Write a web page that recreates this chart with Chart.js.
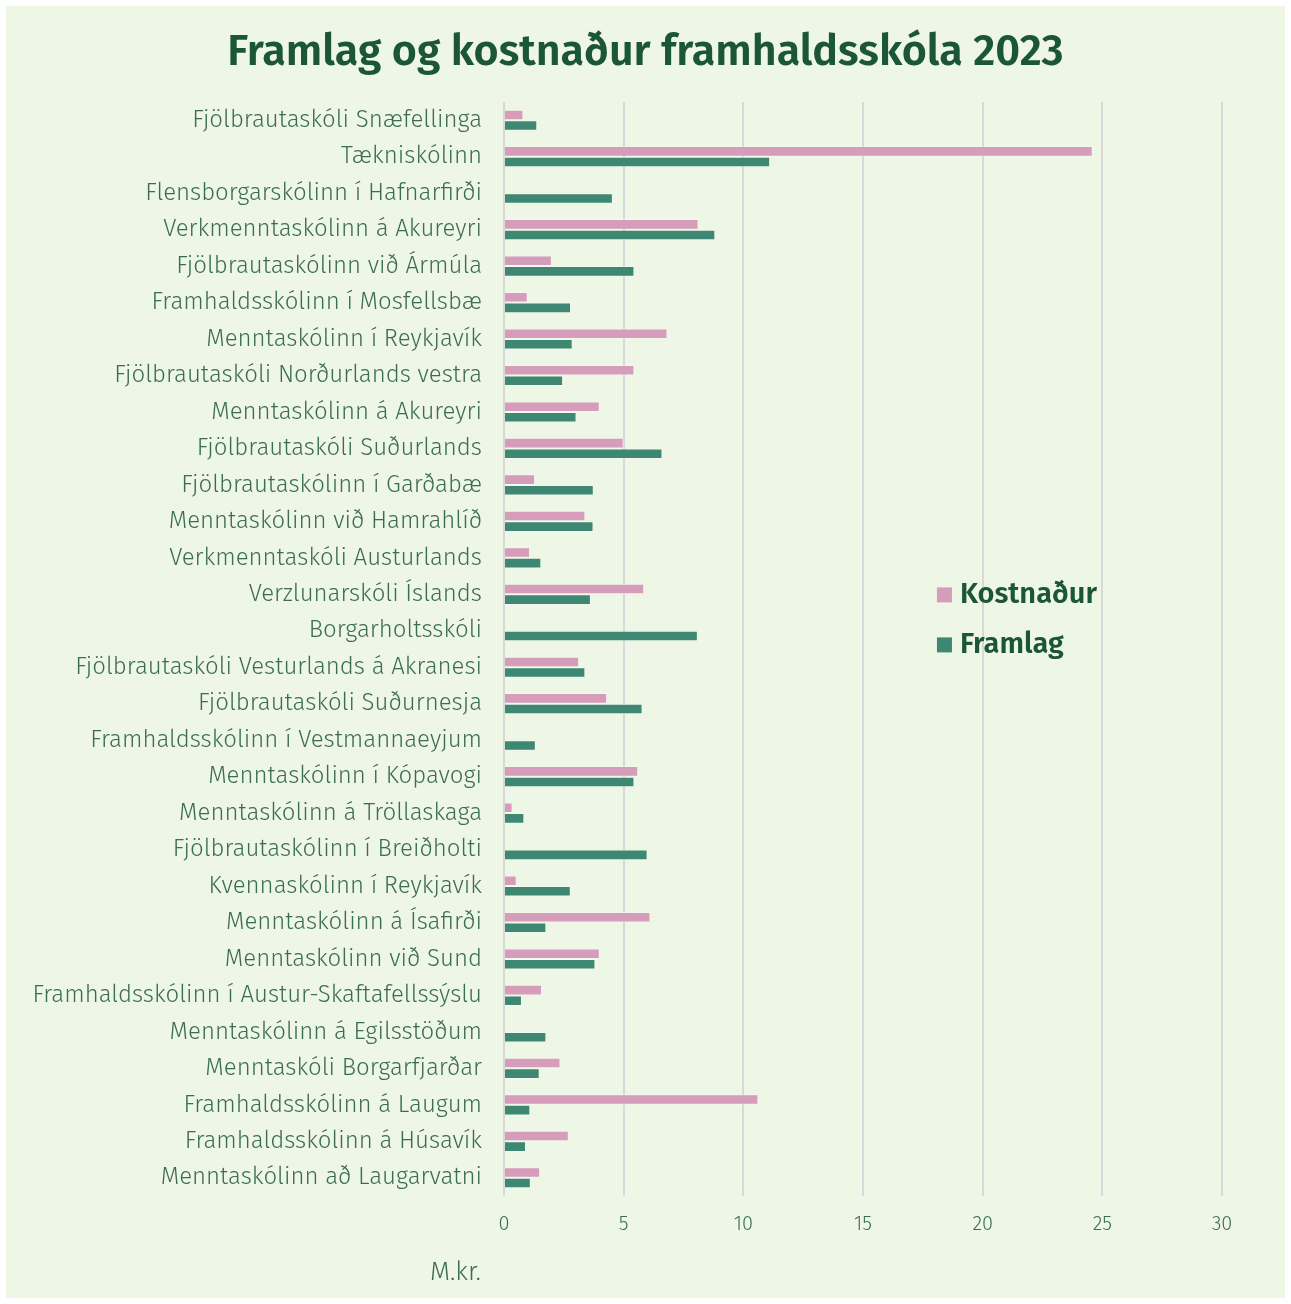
<!DOCTYPE html>
<html>
<head>
<meta charset="utf-8">
<script src="https://cdn.jsdelivr.net/npm/chart.js@4/dist/chart.umd.min.js"></script>
<style>
	html, body { margin: 0; padding: 0; background: #ffffff; }
	#wrap { width: 1291px; height: 1304px; }
</style>
</head>
<body>
<div id="wrap"><canvas id="chart" width="1291" height="1304"></canvas></div>
<script>
// Skólar, í sömu röð og á myndinni (ofan frá)
const schools = [
	'Fjölbrautaskóli Snæfellinga',
	'Tækniskólinn',
	'Flensborgarskólinn í Hafnarfirði',
	'Verkmenntaskólinn á Akureyri',
	'Fjölbrautaskólinn við Ármúla',
	'Framhaldsskólinn í Mosfellsbæ',
	'Menntaskólinn í Reykjavík',
	'Fjölbrautaskóli Norðurlands vestra',
	'Menntaskólinn á Akureyri',
	'Fjölbrautaskóli Suðurlands',
	'Fjölbrautaskólinn í Garðabæ',
	'Menntaskólinn við Hamrahlíð',
	'Verkmenntaskóli Austurlands',
	'Verzlunarskóli Íslands',
	'Borgarholtsskóli',
	'Fjölbrautaskóli Vesturlands á Akranesi',
	'Fjölbrautaskóli Suðurnesja',
	'Framhaldsskólinn í Vestmannaeyjum',
	'Menntaskólinn í Kópavogi',
	'Menntaskólinn á Tröllaskaga',
	'Fjölbrautaskólinn í Breiðholti',
	'Kvennaskólinn í Reykjavík',
	'Menntaskólinn á Ísafirði',
	'Menntaskólinn við Sund',
	'Framhaldsskólinn í Austur-Skaftafellssýslu',
	'Menntaskólinn á Egilsstöðum',
	'Menntaskóli Borgarfjarðar',
	'Framhaldsskólinn á Laugum',
	'Framhaldsskólinn á Húsavík',
	'Menntaskólinn að Laugarvatni'
];

const kostnadur = [
	0.81, 24.6, 0, 8.13, 2.0, 0.99, 6.83, 5.45, 4.0, 5.0,
	1.30, 3.40, 1.09, 5.86, 0, 3.14, 4.31, 0, 5.61, 0.36,
	0, 0.53, 6.12, 4.0, 1.59, 0, 2.36, 10.63, 2.71, 1.51
];

const framlag = [
	1.39, 11.12, 4.55, 8.83, 5.45, 2.80, 2.87, 2.47, 3.03, 6.62,
	3.75, 3.74, 1.56, 3.63, 8.10, 3.40, 5.79, 1.33, 5.45, 0.85,
	6.0, 2.79, 1.77, 3.82, 0.75, 1.77, 1.49, 1.10, 0.92, 1.12
];

const xMin = 0;
const xMax = 30;
const xStep = 5;

const unitLabel = 'M.kr.';
const titleText = 'Framlag og kostnaður framhaldsskóla 2023';

const PINK = '#d69dbb';
const GREEN = '#3e8873';
const DARK = '#1b5638';
const TEXT = '#3b6d53';
const BG = '#eef6e6';
const FONT = '"Fira Sans", "Open Sans", "Noto Sans", sans-serif';

// panel background, title, unit label and the legend inside the plot
const decor = {
	id: 'decor',
	beforeDraw(chart) {
		const ctx = chart.ctx;
		ctx.save();
		ctx.fillStyle = '#ffffff';
		ctx.fillRect(0, 0, chart.width, chart.height);
		ctx.fillStyle = BG;
		ctx.fillRect(6, 6, chart.width - 12, chart.height - 12);
		ctx.restore();
	},
	afterDraw(chart) {
		const ctx = chart.ctx;
		const area = chart.chartArea;
		ctx.save();

		// title, centred on the whole panel
		ctx.font = '600 43px ' + FONT;
		ctx.fillStyle = DARK;
		ctx.textAlign = 'center';
		ctx.textBaseline = 'middle';
		ctx.fillText(titleText, chart.width / 2, 53);

		// unit label, bottom left
		ctx.font = '300 26px ' + FONT;
		ctx.fillStyle = TEXT;
		ctx.textAlign = 'right';
		ctx.fillText(unitLabel, area.left - 23, 1273);

		// legend
		const lx = area.left + (area.right - area.left) * 0.603;
		const ly = area.top + (area.bottom - area.top) * 0.451;
		chart.data.datasets.forEach((ds, i) => {
			const y = ly + i * 50;
			ctx.fillStyle = ds.backgroundColor;
			ctx.fillRect(lx, y - 8, 15, 15);
			ctx.fillStyle = DARK;
			ctx.font = '600 29px ' + FONT;
			ctx.textAlign = 'left';
			ctx.fillText(ds.label, lx + 23, y);
		});
		ctx.restore();
	}
};

new Chart(document.getElementById('chart').getContext('2d'), {
	type: 'bar',
	data: {
		labels: schools,
		datasets: [
			{
				label: 'Kostnaður',
				data: kostnadur,
				backgroundColor: PINK,
				borderColor: 'rgba(255,255,255,0.35)',
				borderWidth: 1,
				categoryPercentage: 0.58,
				barPercentage: 1.0
			},
			{
				label: 'Framlag',
				data: framlag,
				backgroundColor: GREEN,
				borderColor: 'rgba(255,255,255,0.35)',
				borderWidth: 1,
				categoryPercentage: 0.58,
				barPercentage: 1.0
			}
		]
	},
	options: {
		indexAxis: 'y',
		responsive: false,
		animation: false,
		layout: {
			padding: { top: 102, right: 69, bottom: 52, left: 20 }
		},
		plugins: {
			legend: { display: false },
			tooltip: { enabled: false },
			title: { display: false }
		},
		scales: {
			x: {
				min: xMin,
				max: xMax,
				border: { display: false },
				grid: {
					color: '#d8d8d8',
					lineWidth: 2,
					drawTicks: false
				},
				ticks: {
					stepSize: xStep,
					color: TEXT,
					padding: 16,
					font: { family: FONT, size: 20, weight: '300' }
				}
			},
			y: {
				border: { display: false },
				grid: { display: false, drawTicks: false },
				afterFit(scale) { scale.width = 504 - 20; },
				ticks: {
					color: TEXT,
					padding: 22,
					autoSkip: false,
					font: { family: FONT, size: 24, weight: '300' }
				}
			}
		}
	},
	plugins: [decor]
});
</script>
</body>
</html>
